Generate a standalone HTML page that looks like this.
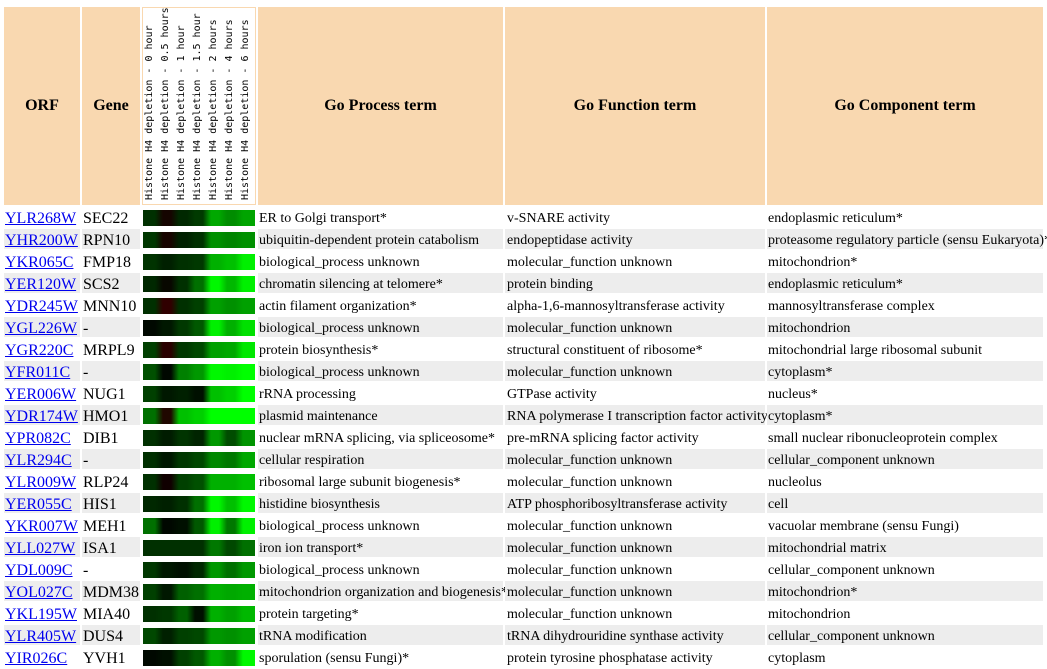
<!DOCTYPE html>
<html><head><meta charset="utf-8">
<style>
html,body{margin:0;padding:0;background:#fff;}
body{width:1047px;height:669px;position:relative;overflow:hidden;font-family:"Liberation Serif",serif;color:#000;}
.h{position:absolute;top:7px;height:198px;background:#f9d8b0;font-family:"Liberation Serif",serif;font-weight:bold;font-size:16px;display:flex;align-items:center;justify-content:center;}
.hw{position:absolute;left:143px;top:8px;width:112px;height:196px;background:#fff;}
.lab{position:absolute;top:200px;font-family:"DejaVu Sans Mono","Liberation Mono",monospace;font-size:10px;line-height:12px;white-space:nowrap;transform-origin:0 0;transform:rotate(-90deg);}
.r{position:absolute;left:0;width:1047px;height:20px;}
.c{position:absolute;top:0;height:18px;padding-top:2px;line-height:20px;white-space:nowrap;font-size:14px;}
.g .c{background:#ededed;}
.o{left:4px;width:75px;padding-left:1px;font-size:16px;}
.o a{color:#0000ee;text-decoration:underline;}
.n{left:82px;width:57px;padding-left:1px;font-size:16px;}
.p{left:258px;width:244px;padding-left:1px;}
.f{left:505px;width:258px;padding-left:2px;}
.m{left:767px;width:275px;padding-left:1px;}
.b{position:absolute;left:143px;top:3px;width:112px;height:16px;}
</style></head><body>
<div class="h" style="left:4px;width:76px;">ORF</div>
<div class="h" style="left:82px;width:58px;">Gene</div>
<div class="h" style="left:142px;width:114px;"></div>
<div class="hw"></div>
<div class="lab" style="left:144px;">Histone H4 depletion - 0 hour</div>
<div class="lab" style="left:160px;">Histone H4 depletion - 0.5 hours</div>
<div class="lab" style="left:176px;">Histone H4 depletion - 1 hour</div>
<div class="lab" style="left:192px;">Histone H4 depletion - 1.5 hour</div>
<div class="lab" style="left:208px;">Histone H4 depletion - 2 hours</div>
<div class="lab" style="left:224px;">Histone H4 depletion - 4 hours</div>
<div class="lab" style="left:240px;">Histone H4 depletion - 6 hours</div>
<div class="h" style="left:258px;width:245px;">Go Process term</div>
<div class="h" style="left:505px;width:260px;">Go Function term</div>
<div class="h" style="left:767px;width:276px;">Go Component term</div>

<div class="r" style="top:207px"><div class="c o"><a>YLR268W</a></div><div class="c n">SEC22</div><div class="b" style="background:linear-gradient(to right,#003000 0,#003000 12px,#150500 20px,#150500 28px,#002800 36px,#002800 44px,#003a00 52px,#003a00 60px,#00a800 68px,#00a800 76px,#008c00 84px,#008c00 92px,#00a400 100px,#00a400 112px)"></div><div class="c p">ER to Golgi transport*</div><div class="c f">v-SNARE activity</div><div class="c m">endoplasmic reticulum*</div></div>
<div class="r g" style="top:229px"><div class="c o"><a>YHR200W</a></div><div class="c n">RPN10</div><div class="b" style="background:linear-gradient(to right,#003800 0,#003800 12px,#180400 20px,#180400 28px,#002000 36px,#002000 44px,#003000 52px,#003000 60px,#009000 68px,#009000 76px,#008400 84px,#008400 92px,#009000 100px,#009000 112px)"></div><div class="c p">ubiquitin-dependent protein catabolism</div><div class="c f">endopeptidase activity</div><div class="c m">proteasome regulatory particle (sensu Eukaryota)*</div></div>
<div class="r" style="top:251px"><div class="c o"><a>YKR065C</a></div><div class="c n">FMP18</div><div class="b" style="background:linear-gradient(to right,#003300 0,#003300 12px,#002000 20px,#002000 28px,#003000 36px,#003000 44px,#003800 52px,#003800 60px,#00b000 68px,#00b000 76px,#00c000 84px,#00c000 92px,#00f000 100px,#00f000 112px)"></div><div class="c p">biological_process unknown</div><div class="c f">molecular_function unknown</div><div class="c m">mitochondrion*</div></div>
<div class="r g" style="top:273px"><div class="c o"><a>YER120W</a></div><div class="c n">SCS2</div><div class="b" style="background:linear-gradient(to right,#002800 0,#002800 12px,#080800 20px,#080800 28px,#003000 36px,#003000 44px,#007000 52px,#007000 60px,#00f800 68px,#00f800 76px,#00b800 84px,#00b800 92px,#00f000 100px,#00f000 112px)"></div><div class="c p">chromatin silencing at telomere*</div><div class="c f">protein binding</div><div class="c m">endoplasmic reticulum*</div></div>
<div class="r" style="top:295px"><div class="c o"><a>YDR245W</a></div><div class="c n">MNN10</div><div class="b" style="background:linear-gradient(to right,#003000 0,#003000 12px,#300000 20px,#300000 28px,#003000 36px,#003000 44px,#004000 52px,#004000 60px,#00a000 68px,#00a000 76px,#009000 84px,#009000 92px,#00a000 100px,#00a000 112px)"></div><div class="c p">actin filament organization*</div><div class="c f">alpha-1,6-mannosyltransferase activity</div><div class="c m">mannosyltransferase complex</div></div>
<div class="r g" style="top:317px"><div class="c o"><a>YGL226W</a></div><div class="c n">-</div><div class="b" style="background:linear-gradient(to right,#000800 0,#000800 12px,#001800 20px,#001800 28px,#003800 36px,#003800 44px,#005800 52px,#005800 60px,#00f000 68px,#00f000 76px,#00b000 84px,#00b000 92px,#00e000 100px,#00e000 112px)"></div><div class="c p">biological_process unknown</div><div class="c f">molecular_function unknown</div><div class="c m">mitochondrion</div></div>
<div class="r" style="top:339px"><div class="c o"><a>YGR220C</a></div><div class="c n">MRPL9</div><div class="b" style="background:linear-gradient(to right,#004000 0,#004000 12px,#2a0000 20px,#2a0000 28px,#003800 36px,#003800 44px,#004800 52px,#004800 60px,#00a000 68px,#00a000 76px,#00a800 84px,#00a800 92px,#00e800 100px,#00e800 112px)"></div><div class="c p">protein biosynthesis*</div><div class="c f">structural constituent of ribosome*</div><div class="c m">mitochondrial large ribosomal subunit</div></div>
<div class="r g" style="top:361px"><div class="c o"><a>YFR011C</a></div><div class="c n">-</div><div class="b" style="background:linear-gradient(to right,#005000 0,#005000 12px,#000800 20px,#000800 28px,#008000 36px,#008000 44px,#009800 52px,#009800 60px,#00f800 68px,#00f800 76px,#00f000 84px,#00f000 92px,#00ff00 100px,#00ff00 112px)"></div><div class="c p">biological_process unknown</div><div class="c f">molecular_function unknown</div><div class="c m">cytoplasm*</div></div>
<div class="r" style="top:383px"><div class="c o"><a>YER006W</a></div><div class="c n">NUG1</div><div class="b" style="background:linear-gradient(to right,#004000 0,#004000 12px,#001800 20px,#001800 28px,#002000 36px,#002000 44px,#001000 52px,#001000 60px,#00c000 68px,#00c000 76px,#00d000 84px,#00d000 92px,#00ff00 100px,#00ff00 112px)"></div><div class="c p">rRNA processing</div><div class="c f">GTPase activity</div><div class="c m">nucleus*</div></div>
<div class="r g" style="top:405px"><div class="c o"><a>YDR174W</a></div><div class="c n">HMO1</div><div class="b" style="background:linear-gradient(to right,#007000 0,#007000 12px,#200800 20px,#200800 28px,#00c000 36px,#00c000 44px,#00d000 52px,#00d000 60px,#00ff00 68px,#00ff00 112px)"></div><div class="c p">plasmid maintenance</div><div class="c f">RNA polymerase I transcription factor activity*</div><div class="c m">cytoplasm*</div></div>
<div class="r" style="top:427px"><div class="c o"><a>YPR082C</a></div><div class="c n">DIB1</div><div class="b" style="background:linear-gradient(to right,#003000 0,#003000 12px,#001c00 20px,#001c00 28px,#003400 36px,#003400 44px,#002400 52px,#002400 60px,#009800 68px,#009800 76px,#004c00 84px,#004c00 92px,#009400 100px,#009400 112px)"></div><div class="c p">nuclear mRNA splicing, via spliceosome*</div><div class="c f">pre-mRNA splicing factor activity</div><div class="c m">small nuclear ribonucleoprotein complex</div></div>
<div class="r g" style="top:449px"><div class="c o"><a>YLR294C</a></div><div class="c n">-</div><div class="b" style="background:linear-gradient(to right,#003000 0,#003000 12px,#001800 20px,#001800 28px,#003800 36px,#003800 44px,#004800 52px,#004800 60px,#008800 68px,#008800 76px,#007800 84px,#007800 92px,#00a800 100px,#00a800 112px)"></div><div class="c p">cellular respiration</div><div class="c f">molecular_function unknown</div><div class="c m">cellular_component unknown</div></div>
<div class="r" style="top:471px"><div class="c o"><a>YLR009W</a></div><div class="c n">RLP24</div><div class="b" style="background:linear-gradient(to right,#003000 0,#003000 12px,#100000 20px,#100000 28px,#004000 36px,#004000 44px,#005000 52px,#005000 60px,#00b000 68px,#00b000 76px,#00b000 84px,#00b000 92px,#00c000 100px,#00c000 112px)"></div><div class="c p">ribosomal large subunit biogenesis*</div><div class="c f">molecular_function unknown</div><div class="c m">nucleolus</div></div>
<div class="r g" style="top:493px"><div class="c o"><a>YER055C</a></div><div class="c n">HIS1</div><div class="b" style="background:linear-gradient(to right,#002800 0,#002800 12px,#002000 20px,#002000 28px,#003000 36px,#003000 44px,#007000 52px,#007000 60px,#00f800 68px,#00f800 76px,#00c000 84px,#00c000 92px,#00f800 100px,#00f800 112px)"></div><div class="c p">histidine biosynthesis</div><div class="c f">ATP phosphoribosyltransferase activity</div><div class="c m">cell</div></div>
<div class="r" style="top:515px"><div class="c o"><a>YKR007W</a></div><div class="c n">MEH1</div><div class="b" style="background:linear-gradient(to right,#007000 0,#007000 12px,#000800 20px,#000800 28px,#001000 36px,#001000 44px,#005800 52px,#005800 60px,#00f000 68px,#00f000 76px,#007800 84px,#007800 92px,#00f000 100px,#00f000 112px)"></div><div class="c p">biological_process unknown</div><div class="c f">molecular_function unknown</div><div class="c m">vacuolar membrane (sensu Fungi)</div></div>
<div class="r g" style="top:537px"><div class="c o"><a>YLL027W</a></div><div class="c n">ISA1</div><div class="b" style="background:linear-gradient(to right,#003000 0,#003000 60px,#007800 68px,#007800 76px,#004800 84px,#004800 92px,#007000 100px,#007000 112px)"></div><div class="c p">iron ion transport*</div><div class="c f">molecular_function unknown</div><div class="c m">mitochondrial matrix</div></div>
<div class="r" style="top:559px"><div class="c o"><a>YDL009C</a></div><div class="c n">-</div><div class="b" style="background:linear-gradient(to right,#003800 0,#003800 12px,#001800 20px,#001800 28px,#001000 36px,#001000 44px,#002800 52px,#002800 60px,#009800 68px,#009800 76px,#007000 84px,#007000 92px,#009800 100px,#009800 112px)"></div><div class="c p">biological_process unknown</div><div class="c f">molecular_function unknown</div><div class="c m">cellular_component unknown</div></div>
<div class="r g" style="top:581px"><div class="c o"><a>YOL027C</a></div><div class="c n">MDM38</div><div class="b" style="background:linear-gradient(to right,#004000 0,#004000 12px,#001800 20px,#001800 28px,#006000 36px,#006000 44px,#007000 52px,#007000 60px,#00b000 68px,#00b000 76px,#00a800 84px,#00a800 92px,#00b000 100px,#00b000 112px)"></div><div class="c p">mitochondrion organization and biogenesis*</div><div class="c f">molecular_function unknown</div><div class="c m">mitochondrion*</div></div>
<div class="r" style="top:603px"><div class="c o"><a>YKL195W</a></div><div class="c n">MIA40</div><div class="b" style="background:linear-gradient(to right,#003000 0,#003000 12px,#003800 20px,#003800 28px,#006000 36px,#006000 44px,#001000 52px,#001000 60px,#00b000 68px,#00b000 76px,#00a000 84px,#00a000 92px,#00b800 100px,#00b800 112px)"></div><div class="c p">protein targeting*</div><div class="c f">molecular_function unknown</div><div class="c m">mitochondrion</div></div>
<div class="r g" style="top:625px"><div class="c o"><a>YLR405W</a></div><div class="c n">DUS4</div><div class="b" style="background:linear-gradient(to right,#004800 0,#004800 12px,#002000 20px,#002000 28px,#004000 36px,#004000 44px,#004800 52px,#004800 60px,#009800 68px,#009800 76px,#009000 84px,#009000 92px,#00a000 100px,#00a000 112px)"></div><div class="c p">tRNA modification</div><div class="c f">tRNA dihydrouridine synthase activity</div><div class="c m">cellular_component unknown</div></div>
<div class="r" style="top:647px"><div class="c o"><a>YIR026C</a></div><div class="c n">YVH1</div><div class="b" style="background:linear-gradient(to right,#000800 0,#000800 12px,#001000 20px,#001000 28px,#004000 36px,#004000 44px,#005800 52px,#005800 60px,#00b000 68px,#00b000 76px,#009000 84px,#009000 92px,#00f800 100px,#00f800 112px)"></div><div class="c p">sporulation (sensu Fungi)*</div><div class="c f">protein tyrosine phosphatase activity</div><div class="c m">cytoplasm</div></div>
</body></html>
